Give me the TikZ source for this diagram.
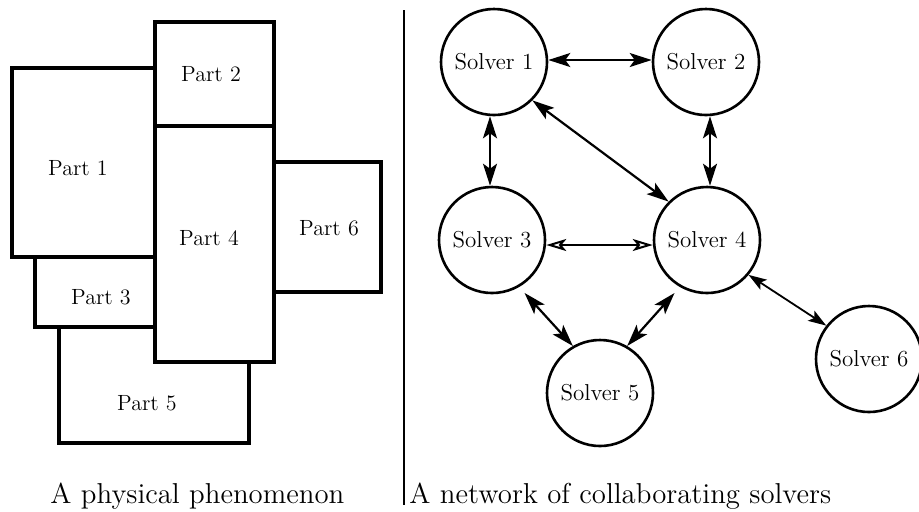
\documentclass[tikz,border=0pt]{standalone}
\usetikzlibrary{arrows.meta}
\tikzset{
  part/.style={draw, fill=white, line width=1.6pt},
  partlabel/.style={font=\fontsize{11}{13}\selectfont},
  solver/.style={circle, draw, line width=1.3pt, minimum size=53pt, inner sep=0pt,
    font=\fontsize{11.5}{13}\selectfont},
  link/.style={line width=1.1pt,
    {Stealth[length=11pt,width=7pt,inset=2.5pt]}-{Stealth[length=11pt,width=7pt,inset=2.5pt]}},
  thinlink/.style={line width=0.9pt,
    {Stealth[length=9pt,width=6pt,inset=2pt]}-{Stealth[length=9pt,width=6pt,inset=2pt]}},
  openlink/.style={line width=1pt,
    {Stealth[open,length=10pt,width=6pt,inset=2.5pt]}-{Stealth[open,length=10pt,width=6pt,inset=2.5pt]}},
  caption/.style={font=\fontsize{14.4}{17}\selectfont, anchor=base west, inner sep=0pt}
}

\begin{document}
\begin{tikzpicture}[x=0.5pt, y=-0.5pt]
  \useasboundingbox (0,0) rectangle (919,511);

  % the physical phenomenon
  \draw[part] (59,327) rectangle (249,443);
  \draw[part] (35,257) rectangle (155,327);
  \draw[part] (12,68) rectangle (155,257);
  \draw[part] (155,126) rectangle (274,362);
  \draw[part] (155,22) rectangle (274,126);
  \draw[part] (274,162) rectangle (381,292);
  \node[partlabel] (p1) at (78,168) {Part 1};
  \node[partlabel] (p2) at (211,74) {Part 2};
  \node[partlabel] (p3) at (101,297) {Part 3};
  \node[partlabel] (p4) at (209,238) {Part 4};
  \node[partlabel] (p5) at (147,403) {Part 5};
  \node[partlabel] (p6) at (329,228) {Part 6};

  \coordinate (divtop) at (404,10);
  \coordinate (divbot) at (404,505);
  \draw[line width=0.6pt] (divtop) -- (divbot);

  % the solvers
  \node[solver] (s1) at (494,62) {Solver 1};
  \node[solver] (s2) at (706,62) {Solver 2};
  \node[solver] (s3) at (492,240) {Solver 3};
  \node[solver] (s4) at (707,240) {Solver 4};
  \node[solver] (s5) at (600,393) {Solver 5};
  \node[solver] (s6) at (869,359) {Solver 6};

  \draw[link] (s1.east |- 0,60) -- (s2.west |- 0,60);
  \draw[link] (s1.south -| 490,0) -- (s3.north -| 490,0);
  \draw[link] (s2.south -| 710,0) -- (s4.north -| 710,0);
  \draw[link] (s1.-45) -- (s4.135);
  \draw[openlink] (s3.east |- 0,245) -- (s4.west |- 0,245);
  \draw[link, shorten <=4pt] (s3.-60) -- (s5.120);
  \draw[link, shorten <=4pt] (s4.-120) -- (s5.60);
  \draw[thinlink] (s4.-40) -- (s6.142);

  \node[caption] (cap1) at (50,503) {A physical phenomenon};
  \node[caption] (cap2) at (409,503) {A network of collaborating solvers};
\end{tikzpicture}
\end{document}
